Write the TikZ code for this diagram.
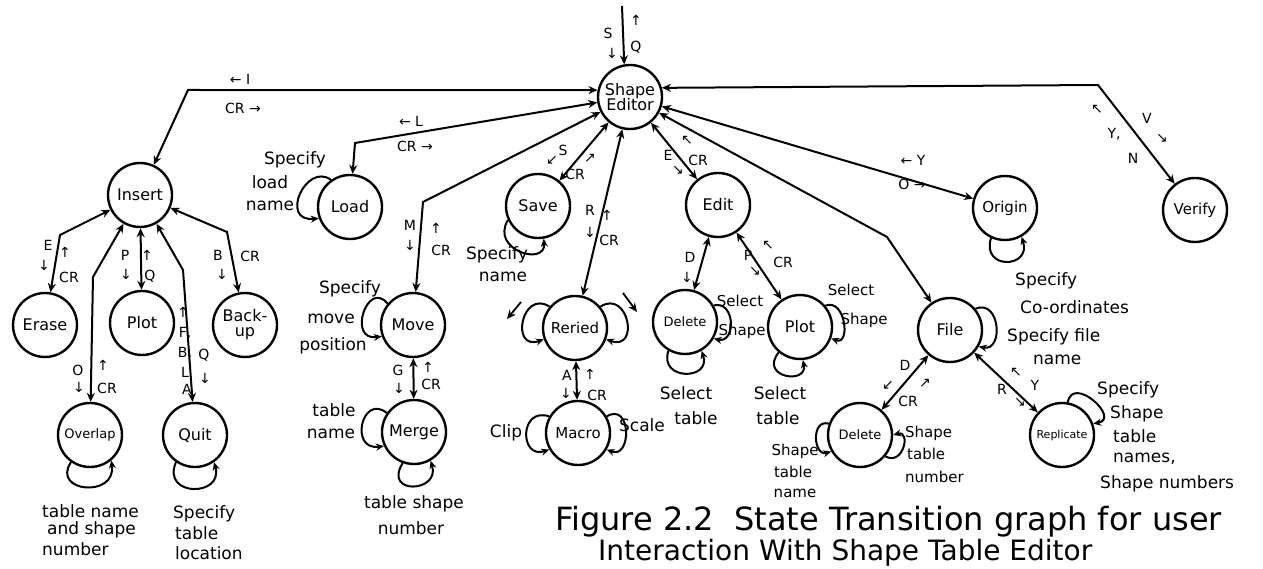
\documentclass[tikz,border=0pt]{standalone}
\usepackage{fontspec}
\setmainfont{DejaVu Sans}
\usetikzlibrary{arrows.meta}
\newcommand{\Arl}{←}
\newcommand{\Arr}{→}
\newcommand{\Aru}{↑}
\newcommand{\Ard}{↓}
\newcommand{\Arnw}{↖}
\newcommand{\Arne}{↗}
\newcommand{\Arse}{↘}
\newcommand{\Arsw}{↙}
\begin{document}
\begin{tikzpicture}[x=1pt,y=-1pt,
  state/.style={draw,circle,line width=2.4pt,minimum size=64pt,inner sep=0pt,
    font=\fontsize{16}{17}\selectfont,align=center},
  link/.style={line width=2pt,{Stealth[length=9pt,width=8pt]}-{Stealth[length=9pt,width=8pt]}},
  oneway/.style={line width=2pt,-{Stealth[length=9pt,width=8pt]}},
  selfloop/.style={line width=2pt,-{Stealth[length=8pt,width=7pt]}},
  note/.style={font=\fontsize{17}{18}\selectfont,inner sep=0pt},
  small note/.style={font=\fontsize{15}{16}\selectfont,inner sep=0pt},
  lab/.style={font=\fontsize{14}{15}\selectfont,inner sep=0pt},
  captext/.style={inner sep=0pt}
]
\useasboundingbox (0,0) rectangle (1263,569);

% ---------- states ----------
\node[state] (SE) at (630,97) {Shape\\[-2pt]Editor};
\node[state] (Insert) at (140,195) {Insert};
\node[state] (Erase) at (45,325) {Erase};
\node[state] (PlotA) at (142,323) {Plot};
\node[state] (Backup) at (245,325) {Back-\\[-2pt]up};
\node[state,font=\fontsize{13}{14}\selectfont] (Overlap) at (90,435) {Overlap};
\node[state] (Quit) at (195,435) {Quit};
\node[state] (Load) at (350,207) {Load};
\node[state] (Move) at (413,325) {Move};
\node[state] (Merge) at (414,432) {Merge};
\node[state] (Save) at (538,206) {Save};
\node[state,font=\fontsize{15}{16}\selectfont] (Reried) at (575,328) {Reried};
\node[state,font=\fontsize{15}{16}\selectfont] (Macro) at (578,433) {Macro};
\node[state] (Edit) at (718,205) {Edit};
\node[state,font=\fontsize{13}{14}\selectfont] (DeleteA) at (685,322) {Delete};
\node[state] (PlotB) at (800,327) {Plot};
\node[state] (File) at (950,330) {File};
\node[state,font=\fontsize{13}{14}\selectfont] (DeleteB) at (860,435) {Delete};
\node[state,font=\fontsize{11}{12}\selectfont] (Replicate) at (1062,435) {Replicate};
\node[state,font=\fontsize{15}{16}\selectfont] (Origin) at (1005,208) {Origin};
\node[state,font=\fontsize{15}{16}\selectfont] (Verify) at (1195,210) {Verify};

% ---------- junctions ----------
\coordinate (top) at (622,6);
\coordinate (jI) at (188,90);
\coordinate (jL) at (355,143);
\coordinate (jM) at (423,202);
\coordinate (jF) at (887,237);
\coordinate (jV) at (1098,85);
\coordinate (jE) at (60,235);
\coordinate (jO) at (93,277);
\coordinate (jQ) at (183,270);
\coordinate (jB) at (227,232);

% ---------- connectors ----------
\draw[oneway] (top) -- (SE.100);
\draw[link] (Insert) -- (jI) -- (SE.168);
\draw[link] (Load) -- (jL) -- (SE);
\draw[link] (Move) -- (jM) -- (SE);
\draw[link] (Save) -- (SE);
\draw[link] (Reried) -- (SE);
\draw[link] (Edit) -- (SE);
\draw[link] (File) -- (jF) -- (SE);
\draw[link] (Origin) -- (SE);
\draw[link] (Verify) -- (jV) -- (SE.16);

\draw[link] (Erase) -- (jE) -- (Insert);
\draw[link] (PlotA) -- (Insert);
\draw[link] (Overlap) -- (jO) -- (Insert);
\draw[link] (Quit) -- (jQ) -- (Insert);
\draw[link] (Backup) -- (jB) -- (Insert);

\draw[link] (Merge) -- (Move);
\draw[link] (Macro) -- (Reried);
\draw[link] (DeleteA) -- (Edit);
\draw[link] (PlotB) -- (Edit);
\draw[link] (DeleteB) -- (File);
\draw[link] (Replicate) -- (File);

% small stray arrows beside Reried
\coordinate (rl1) at (521,302); \coordinate (rl2) at (507,319);
\coordinate (rr1) at (623,293); \coordinate (rr2) at (637,312);
\draw[oneway,line width=1.8pt] (rl1) -- (rl2);
\draw[oneway,line width=1.8pt] (rr1) -- (rr2);

% ---------- self loops ----------
\draw[selfloop] (Load.125) .. controls +(-25,-18) and +(-40,4) .. (Load.200);
\draw[selfloop] (Save.205) .. controls +(-18,30) and +(2,28) .. (Save.280);
\draw[selfloop] (Move.140) .. controls +(-20,-25) and +(-35,5) .. (Move.200);
\draw[selfloop] (Merge.145) .. controls +(-25,-20) and +(-35,5) .. (Merge.205);
\draw[selfloop] (Merge.250) .. controls +(-20,32) and +(10,32) .. (Merge.300);
\draw[selfloop] (Reried.140) .. controls +(-28,-18) and +(-34,12) .. (Reried.200);
\draw[selfloop] (Reried.40) .. controls +(28,-18) and +(34,12) .. (Reried.340);
\draw[selfloop] (Macro.150) .. controls +(-30,-10) and +(-30,10) .. (Macro.210);
\draw[selfloop] (Macro.30) .. controls +(25,-15) and +(25,10) .. (Macro.330);
\draw[selfloop] (DeleteA.30) .. controls +(22,-5) and +(22,5) .. (DeleteA.330);
\draw[selfloop] (DeleteA.240) .. controls +(-10,30) and +(10,30) .. (DeleteA.300);
\draw[selfloop] (PlotB.40) .. controls +(20,-8) and +(20,8) .. (PlotB.340);
\draw[selfloop] (PlotB.230) .. controls +(-20,25) and +(5,25) .. (PlotB.275);
\draw[selfloop] (Origin.245) .. controls +(-10,32) and +(10,32) .. (Origin.300);
\draw[selfloop] (File.40) .. controls +(25,-10) and +(25,5) .. (File.330);
\draw[selfloop] (DeleteB.160) .. controls +(-18,-5) and +(-18,5) .. (DeleteB.210);
\draw[selfloop] (DeleteB.320) .. controls +(18,10) and +(18,-5) .. (DeleteB.0);
\draw[selfloop] (Replicate.80) .. controls +(5,-28) and +(28,-5) .. (Replicate.20);
\draw[selfloop] (Overlap.235) .. controls +(-20,30) and +(5,38) .. (Overlap.310);
\draw[selfloop] (Quit.235) .. controls +(-15,35) and +(10,35) .. (Quit.305);

% ---------- connector labels ----------
\node[lab] (t1) at (608,33) {S};
\node[lab] (t2) at (612,53) {\Ard};
\node[lab] (t3) at (636,20) {\Aru};
\node[lab] (t4) at (636,47) {Q};

\node[lab] (i1) at (240,79) {\Arl\ I};
\node[lab] (i2) at (243,108) {CR \Arr};
\node[lab] (l1) at (411,121) {\Arl\ L};
\node[lab] (l2) at (415,146) {CR \Arr};
\node[lab] (m1) at (410,225) {M};
\node[lab] (m2) at (410,245) {\Ard};
\node[lab] (m3) at (436,228) {\Aru};
\node[lab] (m4) at (441,250) {CR};
\node[lab] (s1) at (552,160) {\Arsw};
\node[lab] (s2) at (563,150) {S};
\node[lab] (s3) at (575,174) {CR};
\node[lab] (s4) at (590,158) {\Arne};
\node[lab] (r1) at (590,210) {R};
\node[lab] (r2) at (590,232) {\Ard};
\node[lab] (r3) at (607,215) {\Aru};
\node[lab] (r4) at (609,240) {CR};
\node[lab] (e1) at (668,155) {E};
\node[lab] (e2) at (678,170) {\Arse};
\node[lab] (e3) at (687,140) {\Arnw};
\node[lab] (e4) at (698,160) {CR};
\node[lab] (o1) at (913,160) {\Arl\ Y};
\node[lab] (o2) at (912,184) {O \Arr};
\node[lab] (v1) at (1147,118) {V};
\node[lab] (v2) at (1162,138) {\Arse};
\node[lab] (v3) at (1097,109) {\Arnw};
\node[lab] (v4) at (1114,134) {Y,};
\node[lab] (v5) at (1133,158) {N};

\node[lab] (d1) at (690,257) {D};
\node[lab] (d2) at (687,277) {\Ard};
\node[lab] (p1) at (748,255) {P};
\node[lab] (p2) at (755,271) {\Arse};
\node[lab] (p3) at (768,245) {\Arnw};
\node[lab] (p4) at (783,262) {CR};
\node[lab] (a1) at (567,375) {A};
\node[lab] (a2) at (566,393) {\Ard};
\node[lab] (a3) at (590,374) {\Aru};
\node[lab] (a4) at (597,395) {CR};
\node[lab] (g1) at (398,370) {G};
\node[lab] (g2) at (399,388) {\Ard};
\node[lab] (g3) at (428,367) {\Aru};
\node[lab] (g4) at (431,384) {CR};

\node[lab] (ie1) at (48,245) {E};
\node[lab] (ie2) at (44,265) {\Ard};
\node[lab] (ie3) at (65,252) {\Aru};
\node[lab] (ie4) at (69,277) {CR};
\node[lab] (ip1) at (125,255) {P};
\node[lab] (ip2) at (126,274) {\Ard};
\node[lab] (ip3) at (147,255) {\Aru};
\node[lab] (ip4) at (150,276) {Q};
\node[lab] (io1) at (78,370) {O};
\node[lab] (io2) at (79,387) {\Ard};
\node[lab] (io3) at (103,365) {\Aru};
\node[lab] (io4) at (107,388) {CR};
\node[lab] (iq1) at (183,312) {\Aru};
\node[lab] (iq2) at (185,333) {F,};
\node[lab] (iq3) at (185,353) {B,};
\node[lab] (iq4) at (185,372) {L};
\node[lab] (iq5) at (187,389) {A};
\node[lab] (iq6) at (204,355) {Q};
\node[lab] (iq7) at (205,378) {\Ard};
\node[lab] (ib1) at (218,255) {B};
\node[lab] (ib2) at (222,274) {\Ard};
\node[lab] (ib3) at (250,256) {CR};

\node[lab] (fd1) at (905,365) {D};
\node[lab] (fd2) at (888,385) {\Arsw};
\node[lab] (fd3) at (908,401) {CR};
\node[lab] (fd4) at (925,383) {\Arne};
\node[lab] (fr1) at (1016,372) {\Arnw};
\node[lab] (fr2) at (1035,385) {Y};
\node[lab] (fr3) at (1002,389) {R};
\node[lab] (fr4) at (1020,402) {\Arse};

% ---------- state notes ----------
\node[note] (n1) at (295,160) {Specify};
\node[note] (n2) at (270,182) {load};
\node[note] (n3) at (270,206) {name};
\node[note] (n4) at (350,289) {Specify};
\node[note] (n5) at (331,319) {move};
\node[note] (n6) at (333,346) {position};
\node[note] (n7) at (497,255) {Specify};
\node[note] (n8) at (503,277) {name};
\node[note] (n9) at (334,410) {table};
\node[note] (n10) at (331,434) {name};
\node[note] (n11) at (414,504) {table shape};
\node[note] (n12) at (411,528) {number};
\node[note,anchor=west] (n13) at (42,511) {table name};
\node[note,anchor=west] (n14) at (47,530) {and shape};
\node[note,anchor=west] (n15) at (42,549) {number};
\node[note,anchor=west] (n16) at (173,514) {Specify};
\node[note,anchor=west] (n17) at (175,533) {table};
\node[note,anchor=west] (n18) at (175,553) {location};
\node[note] (n19) at (506,433) {Clip};
\node[note] (n20) at (642,425) {Scale};
\node[small note] (n21) at (740,301) {Select};
\node[small note] (n22) at (742,331) {Shape};
\node[note] (n23) at (686,393) {Select};
\node[note] (n24) at (696,418) {table};
\node[small note] (n25) at (851,290) {Select};
\node[small note] (n26) at (864,320) {Shape};
\node[note] (n27) at (780,393) {Select};
\node[note] (n28) at (778,418) {table};
\node[note,anchor=west] (n29) at (1015,281) {Specify};
\node[note,anchor=west] (n30) at (1020,307) {Co-ordinates};
\node[note,anchor=west] (n31) at (1007,337) {Specify file};
\node[note,anchor=west] (n32) at (1033,360) {name};
\node[small note] (n33) at (795,451) {Shape};
\node[small note] (n34) at (793,472) {table};
\node[small note] (n35) at (795,493) {name};
\node[small note,anchor=west] (n36) at (905,433) {Shape};
\node[small note,anchor=west] (n37) at (907,454) {table};
\node[small note,anchor=west] (n38) at (905,477) {number};
\node[note,anchor=west] (n39) at (1097,390) {Specify};
\node[note,anchor=west] (n40) at (1110,414) {Shape};
\node[note,anchor=west] (n41) at (1113,436) {table};
\node[note,anchor=west] (n42) at (1113,459) {names,};
\node[note,anchor=west] (n43) at (1100,484) {Shape numbers};

% ---------- caption ----------
\node[captext,anchor=west,font=\fontsize{32}{34}\selectfont] (c1) at (555,522) {Figure 2.2\ \ State Transition graph for user};
\node[captext,anchor=west,font=\fontsize{28}{30}\selectfont] (c2) at (598,553) {Interaction With Shape Table Editor};
\end{tikzpicture}
\end{document}
